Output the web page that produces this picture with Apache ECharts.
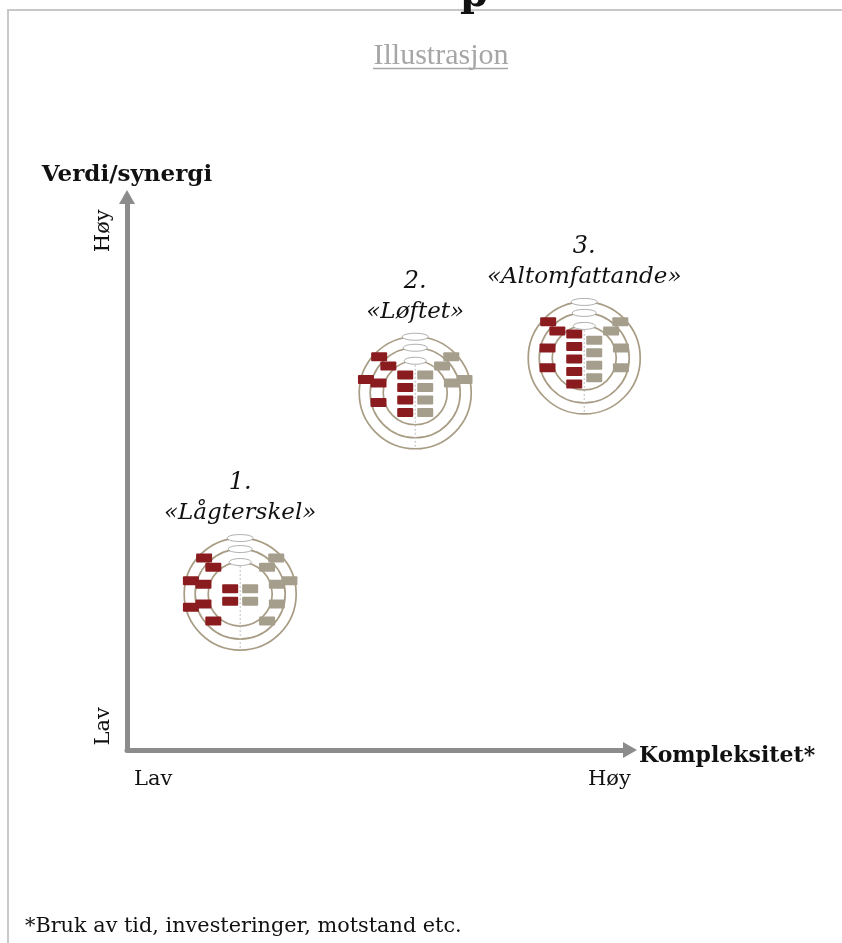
<!DOCTYPE html>
<html>
<head>
<meta charset="utf-8">
<script src="https://cdn.jsdelivr.net/npm/echarts@6/dist/echarts.min.js"></script>
<style>
  html, body { margin: 0; padding: 0; background: #fff; }
  #chart { width: 842px; height: 943px; }
</style>
</head>
<body>
<div id="chart"></div>
<script>
// the three ambition levels
const levels = ["1.", "2.", "3."];
const names = ["«Lågterskel»", "«Løftet»", "«Altomfattande»"];
const complexity = [2.25, 5.73, 9.09];
const synergy = [2.82, 6.46, 7.09];

// number of boxes in each mini diagram (inner column / middle ring / outer ring)
const redInner = [2, 4, 5];
const greyInner = [2, 4, 4];
const redMid = [4, 3, 3];
const greyMid = [4, 2, 3];
const redOuter = [3, 2, 1];
const greyOuter = [2, 2, 1];

const xTicks = [0.52, 9.59];
const xTickText = ["Lav", "Høy"];
const yTicks = [0.43, 9.39];
const yTickText = ["Lav", "Høy"];

const RED = "#8a1c20";
const GREY = "#a69e8c";
const RING = "#a89c84";
const AXIS = "#8c8c8c";

const chart = echarts.init(document.getElementById("chart"), null, { renderer: "canvas" });

function renderDiagram(params, api) {
  const i = params.dataIndex;
  const [cx, cy] = api.coord([api.value(0), api.value(1)]);
  const radii = [56, 45, 32];
  const kids = [];

  radii.forEach(r => kids.push({
    type: "circle", shape: { cx, cy, r },
    style: { fill: "none", stroke: RING, lineWidth: 1.7 }
  }));
  kids.push({
    type: "line", shape: { x1: cx, y1: cy - 32, x2: cx, y2: cy + 56 },
    style: { stroke: "#bdbdbd", lineWidth: 1, lineDash: [2, 2] }
  });

  const box = (x, y, color) => kids.push({
    type: "rect", shape: { x: x - 8, y: y - 4.5, width: 16, height: 9, r: 1 },
    style: { fill: color }
  });
  const column = (n, dx, color) => {
    for (let k = 0; k < n; k++) box(cx + dx, cy + 1 + (k - (n - 1) / 2) * 12.5, color);
  };
  const arc = (n, r, side, color) => {
    for (let k = 0; k < n; k++) {
      const a = (k * 30 - 45) * Math.PI / 180;
      box(cx + side * r * Math.cos(a), cy + r * Math.sin(a), color);
    }
  };
  column(api.value(2), -10, RED);
  column(api.value(3), 10, GREY);
  arc(api.value(4), 38, -1, RED);
  arc(api.value(5), 38, 1, GREY);
  arc(api.value(6), 51, -1, RED);
  arc(api.value(7), 51, 1, GREY);

  // little white name tags on top of each ring
  radii.forEach((r, k) => kids.push({
    type: "ellipse", shape: { cx, cy: cy - r, rx: 13 - k, ry: 3.5 },
    style: { fill: "#fff", stroke: "#9a9a9a", lineWidth: 0.8 }
  }));

  kids.push({
    type: "text", x: cx, y: cy - 111,
    style: { text: levels[i], align: "center", verticalAlign: "middle",
             font: "italic 24px 'DejaVu Serif'", fill: "#111" }
  });
  kids.push({
    type: "text", x: cx, y: cy - 81,
    style: { text: names[i], align: "center", verticalAlign: "middle",
             font: "italic 23px 'DejaVu Serif'", fill: "#111" }
  });
  return { type: "group", children: kids };
}

const tickFont = { fontFamily: "DejaVu Serif", fontSize: 21, color: "#111" };

chart.setOption({
  animation: false,
  backgroundColor: "#fff",
  grid: { left: 127, right: 212, top: 197, bottom: 193 },
  xAxis: {
    type: "value", min: 0, max: 10,
    splitLine: { show: false }, axisTick: { show: false },
    axisLine: { show: true, symbol: ["none", "triangle"], symbolSize: [16, 14],
                lineStyle: { color: AXIS, width: 5 } },
    axisLabel: Object.assign({ customValues: xTicks, margin: 19,
                formatter: v => xTickText[xTicks.indexOf(v)] }, tickFont),
    name: "Kompleksitet*", nameLocation: "end", nameGap: 9,
    nameTextStyle: { fontFamily: "DejaVu Serif", fontWeight: "bold", fontSize: 22, color: "#111",
                     verticalAlign: "top", lineHeight: 12 }
  },
  yAxis: {
    type: "value", min: 0, max: 10,
    splitLine: { show: false }, axisTick: { show: false },
    axisLine: { show: true, symbol: ["none", "triangle"], symbolSize: [16, 14],
                lineStyle: { color: AXIS, width: 5 } },
    axisLabel: Object.assign({ customValues: yTicks, margin: 13, rotate: 90,
                formatter: v => yTickText[yTicks.indexOf(v)] }, tickFont),
    name: "Verdi/synergi", nameLocation: "end", nameGap: 10,
    nameTextStyle: { fontFamily: "DejaVu Serif", fontWeight: "bold", fontSize: 23, color: "#111" }
  },
  series: [{
    type: "custom",
    renderItem: renderDiagram,
    data: levels.map((_, i) => [complexity[i], synergy[i], redInner[i], greyInner[i],
                                redMid[i], greyMid[i], redOuter[i], greyOuter[i]])
  }],
  graphic: [
    { type: "polyline", shape: { points: [[8, 943], [8, 10], [842, 10]] },
      style: { stroke: "#c8c8c8", lineWidth: 2, fill: "none" } },
    { type: "text", x: 474, y: -24,
      style: { text: "p", font: "bold 40px 'DejaVu Serif'", align: "center", verticalAlign: "top", fill: "#111" } },
    { type: "text", x: 441, y: 56,
      style: { text: "Illustrasjon", font: "30px 'Liberation Serif'", align: "center", verticalAlign: "middle", fill: "#a6a6a6" } },
    { type: "line", shape: { x1: 373, y1: 68.5, x2: 508, y2: 68.5 },
      style: { stroke: "#a6a6a6", lineWidth: 1.5 } },
    { type: "text", x: 25, y: 927,
      style: { text: "*Bruk av tid, investeringer, motstand etc.", font: "20.8px 'DejaVu Serif'",
               align: "left", verticalAlign: "middle", fill: "#111" } }
  ]
});
</script>
</body>
</html>
